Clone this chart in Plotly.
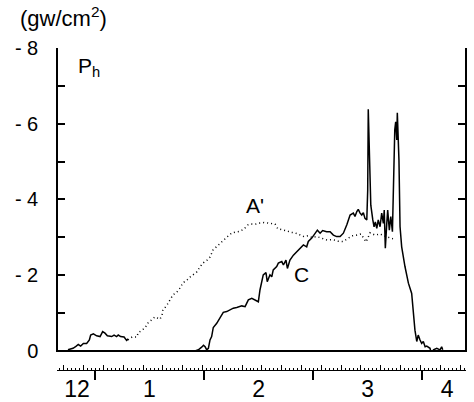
import plotly.graph_objects as go

# time axis: minutes after 12:00 ; pressure P_h in gw/cm^2 (negative = suction)
early_t = [15.1, 17.9, 19.5, 20.8, 22.1, 23.6, 25.4, 26.9, 27.6, 29.1, 30.9, 32.8, 34.2, 35.5,
           36.8, 39.2, 40.5, 41.9, 42.8, 44.1, 46.0, 47.4, 48.3]
early_p = [-0.03, -0.07, -0.12, -0.17, -0.13, -0.20, -0.20, -0.29, -0.42, -0.45, -0.40, -0.38,
           -0.51, -0.47, -0.40, -0.38, -0.42, -0.38, -0.42, -0.38, -0.37, -0.28, -0.32]

a_t = [48.2, 50.4, 53.1, 53.7, 55.9, 57.5, 59.2, 61.4, 63.0, 65.8, 66.9, 67.4, 69.6, 71.3, 72.9,
       75.1, 76.8, 78.4, 80.6, 82.3, 83.9, 86.1, 87.8, 89.4, 91.7, 93.3, 95.0, 97.2, 98.8, 101.0,
       102.7, 105.4, 108.2, 109.8, 112.0, 114.2, 116.4, 118.6, 120.8, 123.0, 125.2, 127.4, 129.1,
       130.7, 132.4, 135.7, 137.9, 140.1, 142.8, 145.0, 147.2, 149.5, 152.2, 155.0, 157.7, 161.0,
       163.8, 166.5, 169.3, 171.5, 174.2, 176.4, 179.2, 181.4, 184.1, 186.9, 189.1, 191.3, 194.0]
a_p = [-0.29, -0.37, -0.37, -0.48, -0.55, -0.61, -0.74, -0.82, -0.90, -0.84, -0.95, -1.08, -1.21,
       -1.35, -1.48, -1.56, -1.66, -1.80, -1.87, -1.95, -2.01, -2.09, -2.22, -2.32, -2.40, -2.48,
       -2.67, -2.77, -2.85, -2.93, -3.01, -3.12, -3.14, -3.16, -3.22, -3.33, -3.35, -3.35, -3.38,
       -3.39, -3.38, -3.37, -3.35, -3.22, -3.21, -3.17, -3.13, -3.12, -3.06, -3.02, -3.04, -3.00,
       -3.02, -2.98, -2.93, -2.94, -2.90, -2.89, -2.98, -3.04, -3.06, -3.09, -2.88, -3.12, -3.06,
       -3.09, -3.04, -3.01, -2.96]

c_t = [85.0, 86.9, 88.7, 89.7, 90.6, 91.5, 92.4, 93.3, 94.2, 95.1, 97.0, 98.8, 100.6, 102.5,
       104.3, 106.1, 108.0, 110.8, 112.6, 114.4, 116.3, 118.1, 119.9, 120.8, 121.8, 122.6, 124.1,
       124.8, 126.3, 127.3, 128.1, 130.0, 130.9, 132.8, 133.7, 135.1, 135.9, 137.3, 139.2, 141.0,
       142.8, 144.7, 146.5, 147.4, 149.3, 151.1, 152.4, 153.9, 155.3, 157.5, 159.4, 161.2, 163.0,
       164.9, 166.7, 168.6, 169.4, 170.4, 172.2, 173.1, 174.1, 174.9, 175.9, 176.8, 177.7, 178.6,
       179.6, 180.1, 180.4, 180.8, 181.2, 181.8, 182.9, 183.6, 184.3, 185.1, 185.9, 186.9, 187.8,
       188.7, 189.2, 189.8, 190.6, 191.1, 192.0, 192.8, 193.7, 194.2, 194.6, 195.0, 195.5, 196.1,
       196.4, 197.0, 197.3, 197.9, 198.8, 200.6, 202.5, 204.3, 205.2, 206.1, 207.1, 207.9, 208.9,
       209.8, 210.7, 211.7, 212.6, 214.4, 215.3, 216.3, 218.1, 219.9, 220.8, 221.4]
c_p = [0.0, -0.03, -0.10, -0.15, -0.11, -0.03, -0.07, -0.29, -0.38, -0.62, -0.73, -0.86, -1.02,
       -1.04, -1.08, -1.13, -1.15, -1.19, -1.17, -1.35, -1.39, -1.35, -1.30, -1.61, -1.83, -2.01,
       -2.07, -1.83, -2.01, -1.96, -2.14, -2.23, -2.32, -2.36, -2.27, -2.40, -2.18, -2.40, -2.53,
       -2.62, -2.71, -2.80, -2.75, -2.89, -2.98, -3.11, -3.19, -3.11, -3.18, -3.15, -3.15, -3.06,
       -3.02, -3.02, -3.11, -3.33, -3.46, -3.59, -3.64, -3.55, -3.68, -3.74, -3.64, -3.59, -3.65,
       -3.50, -3.46, -4.25, -6.38, -5.57, -4.51, -3.85, -3.46, -3.28, -3.41, -3.24, -3.46, -3.28,
       -3.64, -3.37, -3.72, -2.71, -3.37, -3.72, -3.19, -3.55, -3.15, -3.99, -5.31, -5.84, -6.05,
       -5.57, -6.29, -5.57, -5.04, -3.28, -2.75, -2.23, -1.79, -1.52, -1.03, -0.55, -0.25, -0.42,
       -0.29, -0.20, -0.25, -0.11, -0.13, -0.07, 0.11, -0.03, -0.07, -0.03, -0.11, -0.03]

y_tickvals = [0, -1, -2, -3, -4, -5, -6, -7, -8]
y_ticktext = ["0", " ", "- 2", " ", "- 4", " ", "- 6", " ", "- 8"]
x_label_vals = [20.1, 60, 120, 180, 223.8]
x_label_text = ["12", "1", "2", "3", "4"]
half_hour_ticks = [30, 90, 150, 210]

X_RANGE = [9.08, 234.2]
RULER_RANGE = [14.6, 221.0]
Y_RANGE = [0.03, -8.0]
FONT = "Liberation Sans"
BLACK = "black"
CLEAR = "rgba(0,0,0,0)"
FRAME_W = 1.5

W, H, T, B, L, R = 474, 402, 48, 0, 57, 8
plot_bottom_px = 352.1
y_dom = [(H - plot_bottom_px) / (H - T - B), 1]


def py_paper(v):
    """paper y coordinate of a pressure value on the main y axis"""
    frac = (Y_RANGE[0] - v) / (Y_RANGE[0] - Y_RANGE[1])
    return y_dom[0] + frac * (y_dom[1] - y_dom[0])


fig = go.Figure()
fig.add_trace(go.Scatter(x=early_t, y=early_p, mode="lines",
                         line=dict(color=BLACK, width=1.5), hoverinfo="skip"))
fig.add_trace(go.Scatter(x=a_t, y=a_p, mode="lines", name="A'",
                         line=dict(color=BLACK, width=1.5, dash="1px,3px")))
fig.add_trace(go.Scatter(x=c_t, y=c_p, mode="lines", name="C",
                         line=dict(color=BLACK, width=1.5)))

# frame outline (left, bottom, right) drawn from the axis limits
fig.add_trace(go.Scatter(x=[X_RANGE[0], X_RANGE[0], X_RANGE[1], X_RANGE[1]],
                         y=[Y_RANGE[1], 0, 0, Y_RANGE[1] + 0.05], mode="lines",
                         line=dict(color=BLACK, width=FRAME_W), hoverinfo="skip"))

# invisible helper traces so that the overlaid ruler / label / right axes are drawn
for xa, ya in [("x2", "y"), ("x3", "y"), ("x4", "y"), ("x", "y2")]:
    fig.add_trace(go.Scatter(x=half_hour_ticks, y=[0] * len(half_hour_ticks), xaxis=xa, yaxis=ya,
                             mode="markers", marker=dict(opacity=0), hoverinfo="skip"))

ruler_pos = (H - 370) / (H - T - B)
common_x = dict(range=X_RANGE, domain=[0, 1], anchor="free", overlaying="x", showgrid=False,
                zeroline=False, automargin=False)

fig.update_layout(
    width=W, height=H,
    margin=dict(l=L, r=R, t=T, b=B, autoexpand=False),
    paper_bgcolor="white", plot_bgcolor=CLEAR,
    font=dict(family=FONT, color=BLACK),
    showlegend=False,
    xaxis=dict(range=X_RANGE, domain=[0, 1], anchor="free", position=py_paper(0),
               showline=True, linecolor=BLACK, linewidth=FRAME_W, ticks="",
               showticklabels=False, showgrid=False, zeroline=False, automargin=False),
    xaxis2=dict(range=RULER_RANGE, domain=[(67 - L) / (W - L - R), (442 - L) / (W - L - R)],
                anchor="free", overlaying="x", position=ruler_pos, showline=True,
                linecolor=BLACK, linewidth=1, automargin=False,
                ticks="inside", ticklen=5, tickwidth=1, tickcolor=BLACK, tick0=8, dtick=10,
                showticklabels=False, showgrid=False, zeroline=False,
                minor=dict(ticks="inside", ticklen=2.5, tickwidth=1, tickcolor=BLACK, dtick=2,
                           tick0=0, showgrid=False)),
    xaxis3=dict(common_x, position=ruler_pos, tickvals=half_hour_ticks, ticks="outside",
                ticklen=9, tickwidth=1.5, tickcolor=BLACK, showticklabels=False, showline=False),
    xaxis4=dict(common_x, position=ruler_pos, tickvals=x_label_vals, ticktext=x_label_text,
                ticks="", showline=False, tickfont=dict(size=23, family=FONT),
                ticklabelstandoff=3),
    yaxis=dict(range=Y_RANGE, domain=y_dom, anchor="free", position=0, tickvals=y_tickvals,
               automargin=False, ticktext=y_ticktext, ticks="inside", ticklen=7, tickwidth=1.5,
               tickcolor=BLACK, showline=True, linecolor=BLACK, linewidth=FRAME_W,
               showgrid=False, zeroline=False, tickfont=dict(size=20, family=FONT),
               ticklabelstandoff=14),
    yaxis2=dict(range=Y_RANGE, domain=y_dom, overlaying="y", side="right", automargin=False,
                anchor="free", position=1, tickvals=y_tickvals[1:], ticks="inside", ticklen=7,
                tickwidth=1.5, tickcolor=BLACK, showticklabels=False, showline=True,
                linecolor=BLACK, linewidth=FRAME_W, showgrid=False, zeroline=False),
)

fig.add_annotation(text="(gw/cm<sup>2</sup>)", xref="paper", yref="paper",
                   x=(18 - L) / (W - L - R), y=(H - 17) / (H - T - B), xanchor="left",
                   yanchor="middle", showarrow=False, font=dict(size=22, family=FONT))
fig.add_annotation(text="P<sub>h</sub>", xref="x", yref="y", x=19.5, y=-7.5, xanchor="left",
                   showarrow=False, font=dict(size=21, family=FONT))
fig.add_annotation(text="A'", xref="x", yref="y", x=118.1, y=-3.83, showarrow=False,
                   font=dict(size=21, family=FONT))
fig.add_annotation(text="C", xref="x", yref="y", x=143.4, y=-2.01, showarrow=False,
                   font=dict(size=21, family=FONT))

fig.write_html("out.html")
